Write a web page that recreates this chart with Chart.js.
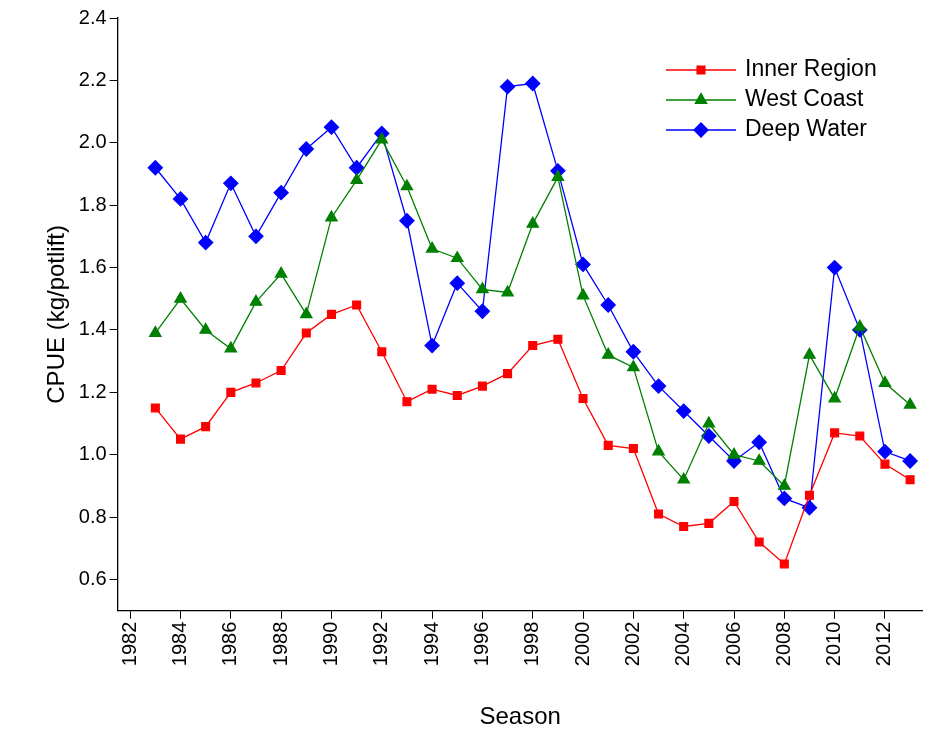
<!DOCTYPE html>
<html><head><meta charset="utf-8">
<script src="https://cdn.jsdelivr.net/npm/chart.js@4"></script>
<style>body{margin:0;background:#fff}#wrap{width:931px;height:736px}</style>
</head><body><div id="wrap"><canvas id="c"></canvas></div>
<script>
let years = [];
for (let y = 1983; y <= 2013; y++) years.push(y);
let inner = [1.15,1.05,1.09,1.20,1.23,1.27,1.39,1.45,1.48,1.33,1.17,1.21,1.19,1.22,1.26,1.35,1.37,1.18,1.03,1.02,0.81,0.77,0.78,0.85,0.72,0.65,0.87,1.07,1.06,0.97,0.92];
let west = [1.39,1.50,1.40,1.34,1.49,1.58,1.45,1.76,1.88,2.01,1.86,1.66,1.63,1.53,1.52,1.74,1.89,1.51,1.32,1.28,1.01,0.92,1.10,1.00,0.98,0.90,1.32,1.18,1.41,1.23,1.16];
let deep = [1.92,1.82,1.68,1.87,1.70,1.84,1.98,2.05,1.92,2.03,1.75,1.35,1.55,1.46,2.18,2.19,1.91,1.61,1.48,1.33,1.22,1.14,1.06,0.98,1.04,0.86,0.83,1.60,1.40,1.01,0.98];
let xTicks = [1982,1984,1986,1988,1990,1992,1994,1996,1998,2000,2002,2004,2006,2008,2010,2012];
let yTicks = [0.6,0.8,1.0,1.2,1.4,1.6,1.8,2.0,2.2,2.4];

function pts(arr){ return arr.map((v,i)=>({x:years[i], y:v})); }
function ds(label, arr, color, style, r){
    return {label:label, data:pts(arr), borderColor:color, backgroundColor:color,
        borderWidth:1.3, pointStyle:style, pointRadius:r, pointHoverRadius:r, tension:0};
}

let legendPlugin = {
    id:'customLegend',
    afterDraw(chart){
        let ctx = chart.ctx;
        ctx.save();
        chart.data.datasets.forEach((d,i)=>{
            let y = 70 + i*30, x0 = 666, x1 = 736;
            ctx.strokeStyle = d.borderColor; ctx.lineWidth = 1.3;
            ctx.beginPath(); ctx.moveTo(x0,y); ctx.lineTo(x1,y); ctx.stroke();
            Chart.helpers.drawPoint(ctx, {pointStyle:d.pointStyle, radius:d.pointRadius, borderWidth:1}, (x0+x1)/2, y);
            ctx.fillStyle = d.borderColor; ctx.fill();
            ctx.fillStyle = '#000'; ctx.font = '23px "Liberation Sans", Arial';
            ctx.textBaseline = 'middle'; ctx.fillText(d.label, 745, y);
        });
        ctx.restore();
    }
};

new Chart(document.getElementById('c'), {
    type:'line',
    data:{datasets:[
        ds('Inner Region', inner, '#ff0000', 'rect', 5.5),
        ds('West Coast', west, '#008000', 'triangle', 6.5),
        ds('Deep Water', deep, '#0000ff', 'rectRot', 7)
    ]},
    options:{
        responsive:true, maintainAspectRatio:false, animation:false,
        layout:{padding:{top:18, right:0, left:39, bottom:0}},
        plugins:{legend:{display:false}, tooltip:{enabled:false}},
        scales:{
            x:{type:'linear', min:1981.5, max:2013.5,
                afterBuildTicks(s){ s.ticks = xTicks.map(v=>({value:v})); },
                ticks:{color:'#000', font:{size:20, family:'"Liberation Sans", Arial'}, maxRotation:90, minRotation:90, callback:v=>String(v)},
                grid:{drawOnChartArea:false, color:'#000', tickLength:8},
                border:{color:'#000', width:1.3},
                title:{display:true, text:'Season', color:'#000', font:{size:24, family:'"Liberation Sans", Arial'}, padding:{top:34}}
            },
            y:{min:0.5, max:2.4,
                afterBuildTicks(s){ s.ticks = yTicks.map(v=>({value:v})); },
                ticks:{color:'#000', font:{size:20, family:'"Liberation Sans", Arial'}, callback:v=>v.toFixed(1)},
                grid:{drawOnChartArea:false, color:'#000', tickLength:8},
                border:{color:'#000', width:1.3},
                title:{display:true, text:'CPUE (kg/potlift)', color:'#000', font:{size:24, family:'"Liberation Sans", Arial'}}
            }
        }
    },
    plugins:[legendPlugin]
});
</script></body></html>
